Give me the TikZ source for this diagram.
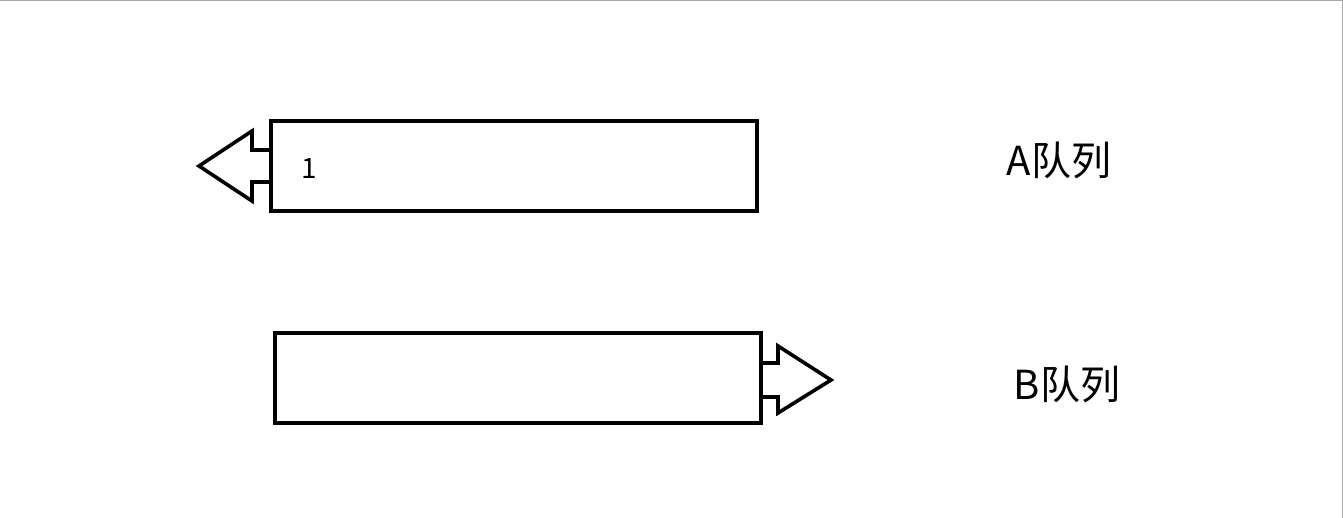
\documentclass[tikz,border=0pt]{standalone}
\usepackage{fontspec}
\setmainfont{Noto Sans CJK SC}
\begin{document}
\begin{tikzpicture}[x=1pt,y=-1pt,
  qbox/.style={draw=black,line width=4pt,outer sep=0pt,inner sep=0pt,anchor=north west,minimum width=486pt,minimum height=90pt},
  qarrow/.style={draw=black,line width=3.6pt,line join=miter},
  qlabel/.style={font=\fontsize{40}{44}\selectfont,inner sep=0pt},
  frameline/.style={draw=black!35,line width=1.5pt}]
\useasboundingbox (0,0) rectangle (1343,518);
\draw[frameline] (0,0.7) -- (1343,0.7);
\draw[frameline] (1342.3,0) -- (1342.3,518);
% A queue
\node[qbox] (qa) at (270.5,121.5) {};
\coordinate (aTop) at (270.5,150);
\coordinate (aBot) at (270.5,182);
\draw[qarrow] (aTop) -- (252,150) -- (252,131) -- (199,166) -- (252,201) -- (252,182) -- (aBot);
\node[inner sep=0pt,font=\fontsize{28}{30}\selectfont] (one) at (309,169) {1};
\node[qlabel] (la) at (1059,160) {A队列};
% B queue
\node[qbox] (qb) at (274.5,333) {};
\coordinate (bTop) at (760.5,363);
\coordinate (bBot) at (760.5,397);
\draw[qarrow] (bTop) -- (778,363) -- (778,346) -- (831,380) -- (778,413) -- (778,397) -- (bBot);
\node[qlabel] (lb) at (1067,384) {B队列};
\end{tikzpicture}
\end{document}
